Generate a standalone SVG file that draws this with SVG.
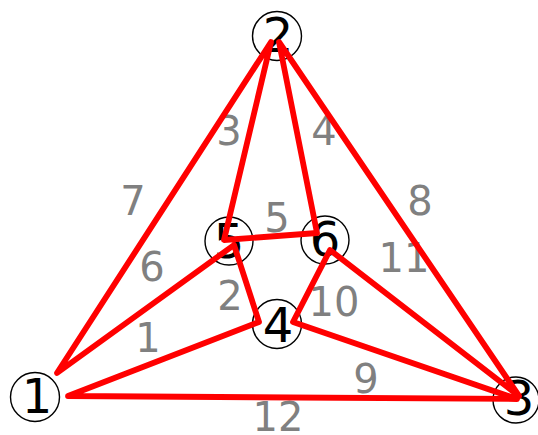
<svg xmlns="http://www.w3.org/2000/svg" width="538" height="435" viewBox="0 0 538 435">
<style>
.node circle{fill:#fff;stroke:#000;stroke-width:1.4}
.node text{font-family:"DejaVu Sans",sans-serif;font-size:48px;fill:#000;text-anchor:middle}
.elabel{font-family:"DejaVu Sans",sans-serif;font-size:40px;fill:#808080;text-anchor:middle}
.route{fill:none;stroke:#ff0000;stroke-width:5.8;stroke-linejoin:round;stroke-linecap:round}
</style>
<rect width="538" height="435" fill="#fff"/>
<g id="node1" class="node"><circle cx="35" cy="397" r="24.5"/><text x="37" y="413">1</text></g>
<g id="node2" class="node"><circle cx="277" cy="36" r="24.5"/><text x="278" y="52">2</text></g>
<g id="node3" class="node"><circle cx="516" cy="400" r="23"/><text x="519" y="415">3</text></g>
<g id="node4" class="node"><circle cx="277" cy="324" r="24.5"/><text x="278" y="342">4</text></g>
<g id="node5" class="node"><circle cx="229" cy="241" r="24"/><text x="229" y="258">5</text></g>
<g id="node6" class="node"><circle cx="325" cy="240" r="24"/><text x="325" y="256">6</text></g>
<g id="edge-labels">
<text class="elabel" x="133" y="215">7</text>
<text class="elabel" x="152" y="281">6</text>
<text class="elabel" x="229" y="145">3</text>
<text class="elabel" x="324" y="145">4</text>
<text class="elabel" x="420" y="215">8</text>
<text class="elabel" x="404" y="272">11</text>
<text class="elabel" x="277" y="232">5</text>
<text class="elabel" x="230" y="310">2</text>
<text class="elabel" x="334" y="316">10</text>
<text class="elabel" x="148" y="352">1</text>
<text class="elabel" x="366" y="393">9</text>
<text class="elabel" x="278" y="431">12</text>
</g>
<g id="connectors">
<path class="route" d="M57,373 L271,42 L224,240 L317,233 L279,42 L519,396 L330,250 L293,322 L517,399 L68,396 L259,322 L234,245 Z"/>
</g>
</svg>
